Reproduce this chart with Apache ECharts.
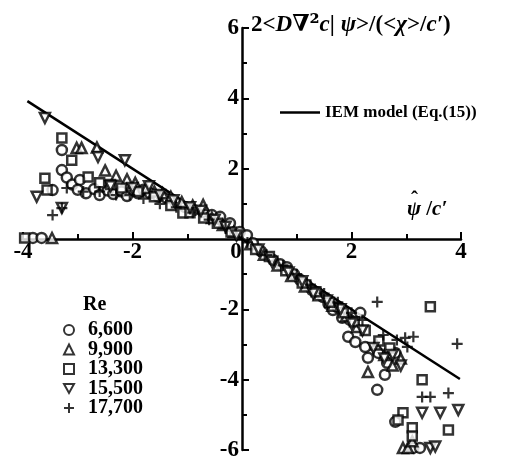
<!DOCTYPE html>
<html>
<head>
<meta charset="utf-8">
<script src="https://cdn.jsdelivr.net/npm/echarts@6/dist/echarts.min.js"></script>
<style>
html,body{margin:0;padding:0;background:#fff;}
#chart{width:508px;height:462px;}
</style>
</head>
<body>
<div id="chart"></div>
<script>
// ---- data ----
var xTicks = [-4, -2, 0, 2, 4];
var yTicks = [-6, -4, -2, 0, 2, 4, 6];
var seriesNames = ['6,600', '9,900', '13,300', '15,500', '17,700'];
var modelName = 'IEM model (Eq.(15))';
var modelLine = [[-3.92, 3.92], [3.98, -3.98]];

var re6600 = [[-3.82,0.03],[-3.66,0.03],[-3.46,1.39],[-3.29,2.53],[-3.29,1.96],[-3.2,1.75],[-3.1,1.55],[-2.96,1.68],[-3.0,1.4],[-2.85,1.3],[-2.7,1.42],[-2.6,1.25],[-2.45,1.38],[-2.35,1.28],[-2.2,1.35],[-2.1,1.22],[-2.0,1.4],[-1.9,1.3],[-1.8,1.4],[-1.68,1.3],[-1.53,1.2],[-1.37,1.16],[-1.22,1.05],[-1.04,0.91],[-0.88,0.82],[-0.71,0.77],[-0.55,0.68],[-0.4,0.63],[-0.22,0.45],[-0.04,0.2],[0.09,0.11],[0.2,-0.12],[0.35,-0.35],[0.57,-0.6],[0.7,-0.72],[0.82,-0.8],[0.95,-1.0],[1.06,-1.16],[1.18,-1.3],[1.28,-1.45],[1.38,-1.52],[1.48,-1.65],[1.58,-1.85],[1.66,-2.02],[1.75,-1.95],[1.83,-2.24],[1.97,-2.3],[2.16,-2.1],[1.94,-2.78],[2.07,-2.93],[2.25,-3.07],[2.3,-3.38],[2.49,-3.24],[2.61,-3.86],[2.65,-3.52],[2.8,-3.24],[2.47,-4.29],[2.8,-5.2],[3.13,-5.94],[3.25,-5.94]];
var re9900 = [[-3.47,0.03],[-3.02,2.59],[-2.93,2.59],[-2.65,2.6],[-2.5,1.95],[-2.3,1.8],[-2.1,1.7],[-1.95,1.6],[-1.75,1.45],[-1.6,1.35],[-1.45,1.3],[-1.3,1.2],[-1.1,1.05],[-0.9,0.95],[-0.71,0.97],[-0.55,0.6],[-0.35,0.4],[-0.15,0.2],[0.15,-0.15],[0.4,-0.45],[0.65,-0.75],[0.9,-1.05],[1.15,-1.35],[1.4,-1.6],[1.65,-1.9],[1.9,-2.2],[2.1,-2.5],[2.3,-3.78],[2.45,-3.0],[2.6,-3.3],[2.75,-3.6],[2.9,-3.4],[2.94,-5.94],[3.03,-5.94],[3.11,-5.75]];
var re13300 = [[-3.97,0.03],[-3.6,1.73],[-3.56,1.39],[-3.29,2.87],[-3.11,2.24],[-2.81,1.76],[-2.6,1.6],[-2.4,1.55],[-2.2,1.45],[-1.9,1.35],[-1.6,1.2],[-1.3,0.95],[-1.08,0.74],[-0.95,0.75],[-0.7,0.6],[-0.45,0.45],[-0.2,0.2],[0.25,-0.3],[0.5,-0.5],[0.8,-0.9],[1.1,-1.25],[1.35,-1.5],[1.6,-1.8],[1.85,-2.1],[2.05,-2.35],[2.25,-2.6],[2.5,-2.9],[2.7,-3.1],[3.44,-1.93],[3.29,-4.0],[2.94,-4.94],[2.85,-5.15],[3.11,-5.37],[3.77,-5.43],[3.11,-5.6]];
var re15500 = [[-3.6,3.44],[-3.75,1.2],[-3.29,0.88],[-2.63,2.33],[-2.14,2.24],[-2.4,1.5],[-2.0,1.45],[-1.7,1.5],[-1.5,1.25],[-1.25,1.1],[-0.95,0.9],[-0.75,0.8],[-0.5,0.55],[-0.3,0.35],[-0.1,0.1],[0.3,-0.3],[0.55,-0.65],[0.85,-0.95],[1.1,-1.2],[1.3,-1.55],[1.55,-1.75],[1.8,-2.0],[2.0,-2.4],[2.2,-2.6],[2.4,-3.1],[2.6,-3.4],[2.75,-3.3],[2.9,-3.6],[3.29,-4.94],[3.62,-4.94],[3.95,-4.86],[3.44,-5.94],[3.53,-5.9]];
var re17700 = [[-3.46,0.68],[-3.29,0.88],[-3.2,1.45],[-2.9,1.35],[-2.6,1.35],[-2.3,1.25],[-2.05,1.25],[-1.8,1.15],[-1.5,1.0],[-1.2,0.9],[-0.9,0.75],[-0.6,0.55],[-0.3,0.3],[0.1,-0.1],[0.45,-0.45],[0.75,-0.75],[1.0,-1.0],[1.25,-1.3],[1.5,-1.55],[1.75,-1.8],[2.0,-2.1],[2.2,-2.3],[2.47,-1.79],[2.58,-2.73],[2.83,-2.87],[2.98,-2.81],[3.13,-2.78],[3.02,-3.07],[3.93,-2.98],[3.29,-4.49],[3.44,-4.49],[3.77,-4.38]];

// ---- chart ----
var FONT = '"Liberation Serif", "Times New Roman", serif';
var W = 508, H = 462;
var G = {left: 23, right: 47, top: 28, bottom: 12};
var chart = echarts.init(document.getElementById('chart'), null, {renderer: 'canvas'});

var symbols = ['circle', 'triangle', 'rect', 'path://M0,0L10,0L5,9Z', 'path://M4,0H6V4H10V6H6V10H4V6H0V4H4Z'];
var sizes = [10, 10, 9, 10, 11];
var datasets = [re6600, re9900, re13300, re15500, re17700];

var series = [{
  name: modelName,
  type: 'line',
  data: modelLine,
  symbol: 'none',
  color: '#000',
  itemStyle: {color: '#000'},
  lineStyle: {color: '#000', width: 2.5},
  z: 1
}];
datasets.forEach(function (d, i) {
  var plus = i === 4;
  series.push({
    name: seriesNames[i],
    type: 'scatter',
    data: d,
    symbol: symbols[i],
    symbolSize: sizes[i],
    itemStyle: plus ? {color: '#000', borderWidth: 0} : {color: '#fff', borderColor: '#000', borderWidth: 2.5},
    z: 3
  });
});

var axisFont = {fontFamily: FONT, fontWeight: 'bold', fontSize: 23, color: '#000'};
var plotW = W - G.left - G.right, plotH = H - G.top - G.bottom;

chart.setOption({
  animation: false,
  backgroundColor: '#fff',
  grid: {left: G.left, right: G.right, top: G.top, bottom: G.bottom, containLabel: false},
  xAxis: {
    type: 'value', min: -4, max: 4, interval: 2,
    position: 'bottom',
    offset: -plotH / 2,
    axisLine: {onZero: false, lineStyle: {color: '#000', width: 2.5}},
    axisTick: {inside: true, length: 7, lineStyle: {color: '#000', width: 2}},
    minorTick: {show: true, splitNumber: 2, length: 5, lineStyle: {color: '#000', width: 2}},
    splitLine: {show: false},
    axisLabel: Object.assign({
      margin: 2,
      formatter: function (v) {
        if (xTicks.indexOf(v) < 0) return '';
        return v === 0 ? '{z|0}' : String(v);
      },
      rich: {z: {fontFamily: FONT, fontWeight: 'bold', fontSize: 23, color: '#000', padding: [0, 12, 0, 0]}}
    }, axisFont)
  },
  yAxis: {
    type: 'value', min: -6, max: 6, interval: 2,
    position: 'left',
    offset: -plotW / 2,
    axisLine: {onZero: false, lineStyle: {color: '#000', width: 2.5}},
    axisTick: {inside: true, length: 7, lineStyle: {color: '#000', width: 2}},
    minorTick: {show: true, splitNumber: 2, length: 5, lineStyle: {color: '#000', width: 2}},
    splitLine: {show: false},
    axisLabel: Object.assign({margin: 3, formatter: function (v) { return (v === 0 || yTicks.indexOf(v) < 0) ? '' : String(v); }}, axisFont)
  },
  legend: [{
    data: [{name: modelName, icon: 'rect'}],
    left: 275, top: 99,
    itemWidth: 40, itemHeight: 2.5,
    itemStyle: {color: '#000'},
    textStyle: {fontFamily: FONT, fontWeight: 'bold', fontSize: 17, color: '#000'}
  }, {
    data: seriesNames,
    orient: 'vertical',
    left: 58, top: 315,
    itemWidth: 10, itemHeight: 10, itemGap: -0.5,
    textStyle: {fontFamily: FONT, fontWeight: 'bold', fontSize: 20, color: '#000', padding: [0, 0, 0, 9]}
  }],
  graphic: [{
    type: 'text', left: 83, top: 295,
    style: {text: 'Re', font: 'bold 20px ' + FONT, fill: '#000'}
  }, {
    type: 'text', left: 251, top: 14,
    style: {
      text: '{n|2<}{i|D}{b|∇²}{i|c}{n|| }{i|ψ}{n|>/(<}{i|χ}{n|>/}{i|c′}{n|)}',
      rich: {
        n: {font: 'bold 23px ' + FONT, fill: '#000', lineHeight: 26},
        i: {font: 'italic bold 23px ' + FONT, fill: '#000', lineHeight: 26},
        b: {font: 'bold 23px "DejaVu Serif", serif', fill: '#000', lineHeight: 26}
      }
    }
  }, {
    type: 'text', left: 407, top: 199,
    style: {
      text: '{i|ψ}{n| /}{i|c′}',
      rich: {
        n: {font: 'bold 21px ' + FONT, fill: '#000'},
        i: {font: 'italic bold 21px ' + FONT, fill: '#000'}
      }
    }
  }, {
    type: 'text', left: 411, top: 190,
    style: {text: 'ˆ', font: 'bold 21px ' + FONT, fill: '#000'}
  }],
  series: series
});
</script>
</body>
</html>
